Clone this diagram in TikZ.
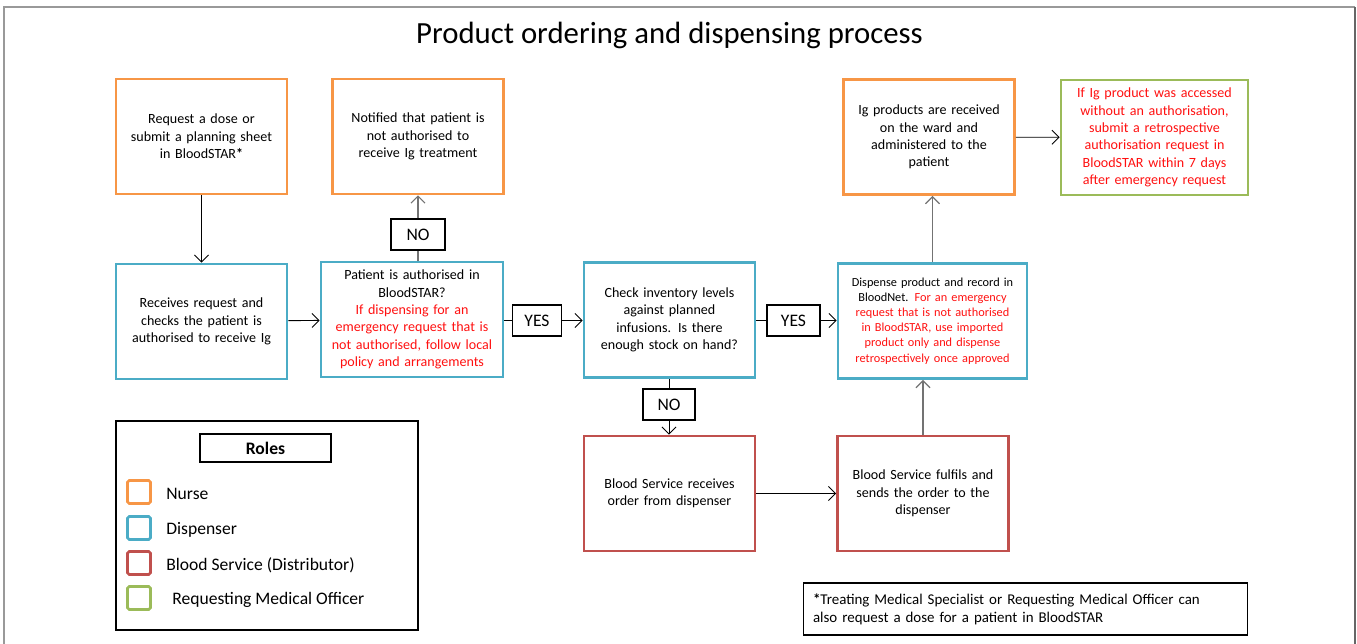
\documentclass[tikz,border=0pt]{standalone}
\usepackage{fontspec}
\setmainfont{Carlito}
\usetikzlibrary{arrows.meta, calc, positioning}
\definecolor{nurseor}{HTML}{F79646}
\definecolor{dispbl}{HTML}{4BACC6}
\definecolor{bsred}{HTML}{C0504D}
\definecolor{rmogr}{HTML}{9BBB59}
\definecolor{notered}{HTML}{FF1010}
\tikzset{
    flowbox/.style = {draw, line width=1.6pt, minimum width=3.42cm, minimum height=2.3cm,
        text width=3.2cm, align=center, inner sep=1pt, font=\fontsize{8}{9.9}\selectfont},
    nurse/.style = {flowbox, draw=nurseor},
    dispenser/.style = {flowbox, draw=dispbl},
    bloodsvc/.style = {flowbox, draw=bsred},
    rmo/.style = {flowbox, draw=rmogr},
    answer/.style = {draw, line width=0.6pt, inner sep=0pt, minimum height=0.62cm,
        font=\fontsize{10}{12}\selectfont},
    legsq/.style = {draw, line width=1.5pt, rounded corners=1pt, minimum size=0.46cm},
    legtxt/.style = {anchor=west, inner sep=0pt, font=\fontsize{10}{12}\selectfont},
    flow/.style = {line width=0.5pt, -{Straight Barb[length=4pt,width=8pt]}},
}

\begin{document}
\begin{tikzpicture}[x=0.02cm, y=-0.02cm]
\useasboundingbox (0,0) rectangle (1357,643);
\draw[black!40, line width=0.8pt] (4,650) -- (4,7) -- (1355,7);
\draw[black!60, line width=0.8pt] (1355,7) -- (1355,650);

\node (title) at (669.5,35) {\fontsize{17.5}{21}\selectfont Product ordering and dispensing process};

\node[nurse] (req) at (201.5,136.5) {Request a dose or\\submit a planning sheet\\in BloodSTAR\textbf{*}};
\node[nurse] (notif) at (418,136.5) {Notified that patient is\\not authorised to\\receive Ig treatment};
\node[dispenser] (recv) at (201.5,321.5) {Receives request and\\checks the patient is\\authorised to receive Ig};
\node[dispenser, minimum width=3.64cm, text width=3.5cm] (auth) at (412,319.5)
    {Patient is authorised in\\BloodSTAR?\\{\color{notered}If dispensing for an\\emergency request that is\\not authorised, follow local\\policy and arrangements}};
\node[dispenser] (check) at (669.5,320) {Check inventory levels\\against planned\\infusions. Is there\\enough stock on hand?};
\node[dispenser, minimum width=3.78cm, text width=3.7cm, font=\fontsize{7}{8.6}\selectfont] (disp) at (932.5,321)
    {Dispense product and record in\\BloodNet. {\color{notered}For an emergency\\request that is not authorised\\in BloodSTAR, use imported\\product only and dispense\\retrospectively once approved}};
\node[nurse] (igrecv) at (929,137) {Ig products are received\\on the ward and\\administered to the\\patient};
\node[rmo, minimum width=3.74cm, text width=3.6cm] (retro) at (1154.5,137.5)
    {\color{notered}If Ig product was accessed\\without an authorisation,\\submit a retrospective\\authorisation request in\\BloodSTAR within 7 days\\after emergency request};
\node[bloodsvc] (bsrecv) at (669.5,493.5) {Blood Service receives\\order from dispenser};
\node[bloodsvc] (bsfulfil) at (923,493.5) {Blood Service fulfils and\\sends the order to the\\dispenser};

\node[answer, minimum width=1.08cm] (noa) at (418,234.5) {NO};
\node[answer, minimum width=0.98cm] (yesa) at (537,320.5) {YES};
\node[answer, minimum width=1.06cm] (yesb) at (793.5,320.5) {YES};
\node[answer, minimum width=1.04cm] (nob) at (669,404.5) {NO};

\draw[flow] (req) -- (recv);
\draw[flow] (recv) -- (auth);
\draw[black!55, line width=0.6pt] (noa.south |- auth.north) -- (noa);
\draw[flow, black!55, line width=0.6pt] (noa) -- (notif.south -| noa);
\draw[line width=0.5pt] (yesa.west -| auth.east) -- (yesa);
\draw[flow] (yesa) -- (yesa.east -| check.west);
\draw[line width=0.5pt] (yesb.west -| check.east) -- (yesb);
\draw[flow] (yesb) -- (yesb.east -| disp.west);
\draw[line width=0.5pt] (nob.north |- check.south) -- (nob);
\draw[flow] (nob) -- (bsrecv.north -| nob);
\draw[flow] (bsrecv) -- (bsfulfil);
\draw[flow, black!55, line width=0.7pt] (bsfulfil.north) -- (bsfulfil.north |- disp.south);
\draw[flow, black!55, line width=0.7pt] (disp.north) -- (disp.north |- igrecv.south);
\draw[flow] (igrecv) -- (retro);

\draw[line width=0.6pt] (116,421) rectangle (418,630);
\node[draw, line width=0.6pt, minimum width=2.62cm, minimum height=0.56cm, font=\fontsize{10}{12}\selectfont\bfseries] (roles) at (265.5,448) {Roles};
\node[legsq, draw=nurseor] (sqn) at (139,492) {};
\node[legsq, draw=dispbl] (sqd) at (139,528) {};
\node[legsq, draw=bsred] (sqb) at (139,563) {};
\node[legsq, draw=rmogr] (sqr) at (139,598) {};
\node[legtxt] (ln) at (166,494) {Nurse};
\node[legtxt] (ld) at (166,530) {Dispenser};
\node[legtxt] (lb) at (166,565) {Blood Service (Distributor)};
\node[legtxt] (lr) at (172,600) {Requesting Medical Officer};

\node[draw, line width=0.6pt, minimum width=8.9cm, minimum height=1.04cm, text width=8.5cm, align=left,
    font=\fontsize{8.5}{10.2}\selectfont] (foot) at (1025.5,609)
    {\textbf{*}Treating Medical Specialist or Requesting Medical Officer can\\also request a dose for a patient in BloodSTAR};
\end{tikzpicture}
\end{document}
